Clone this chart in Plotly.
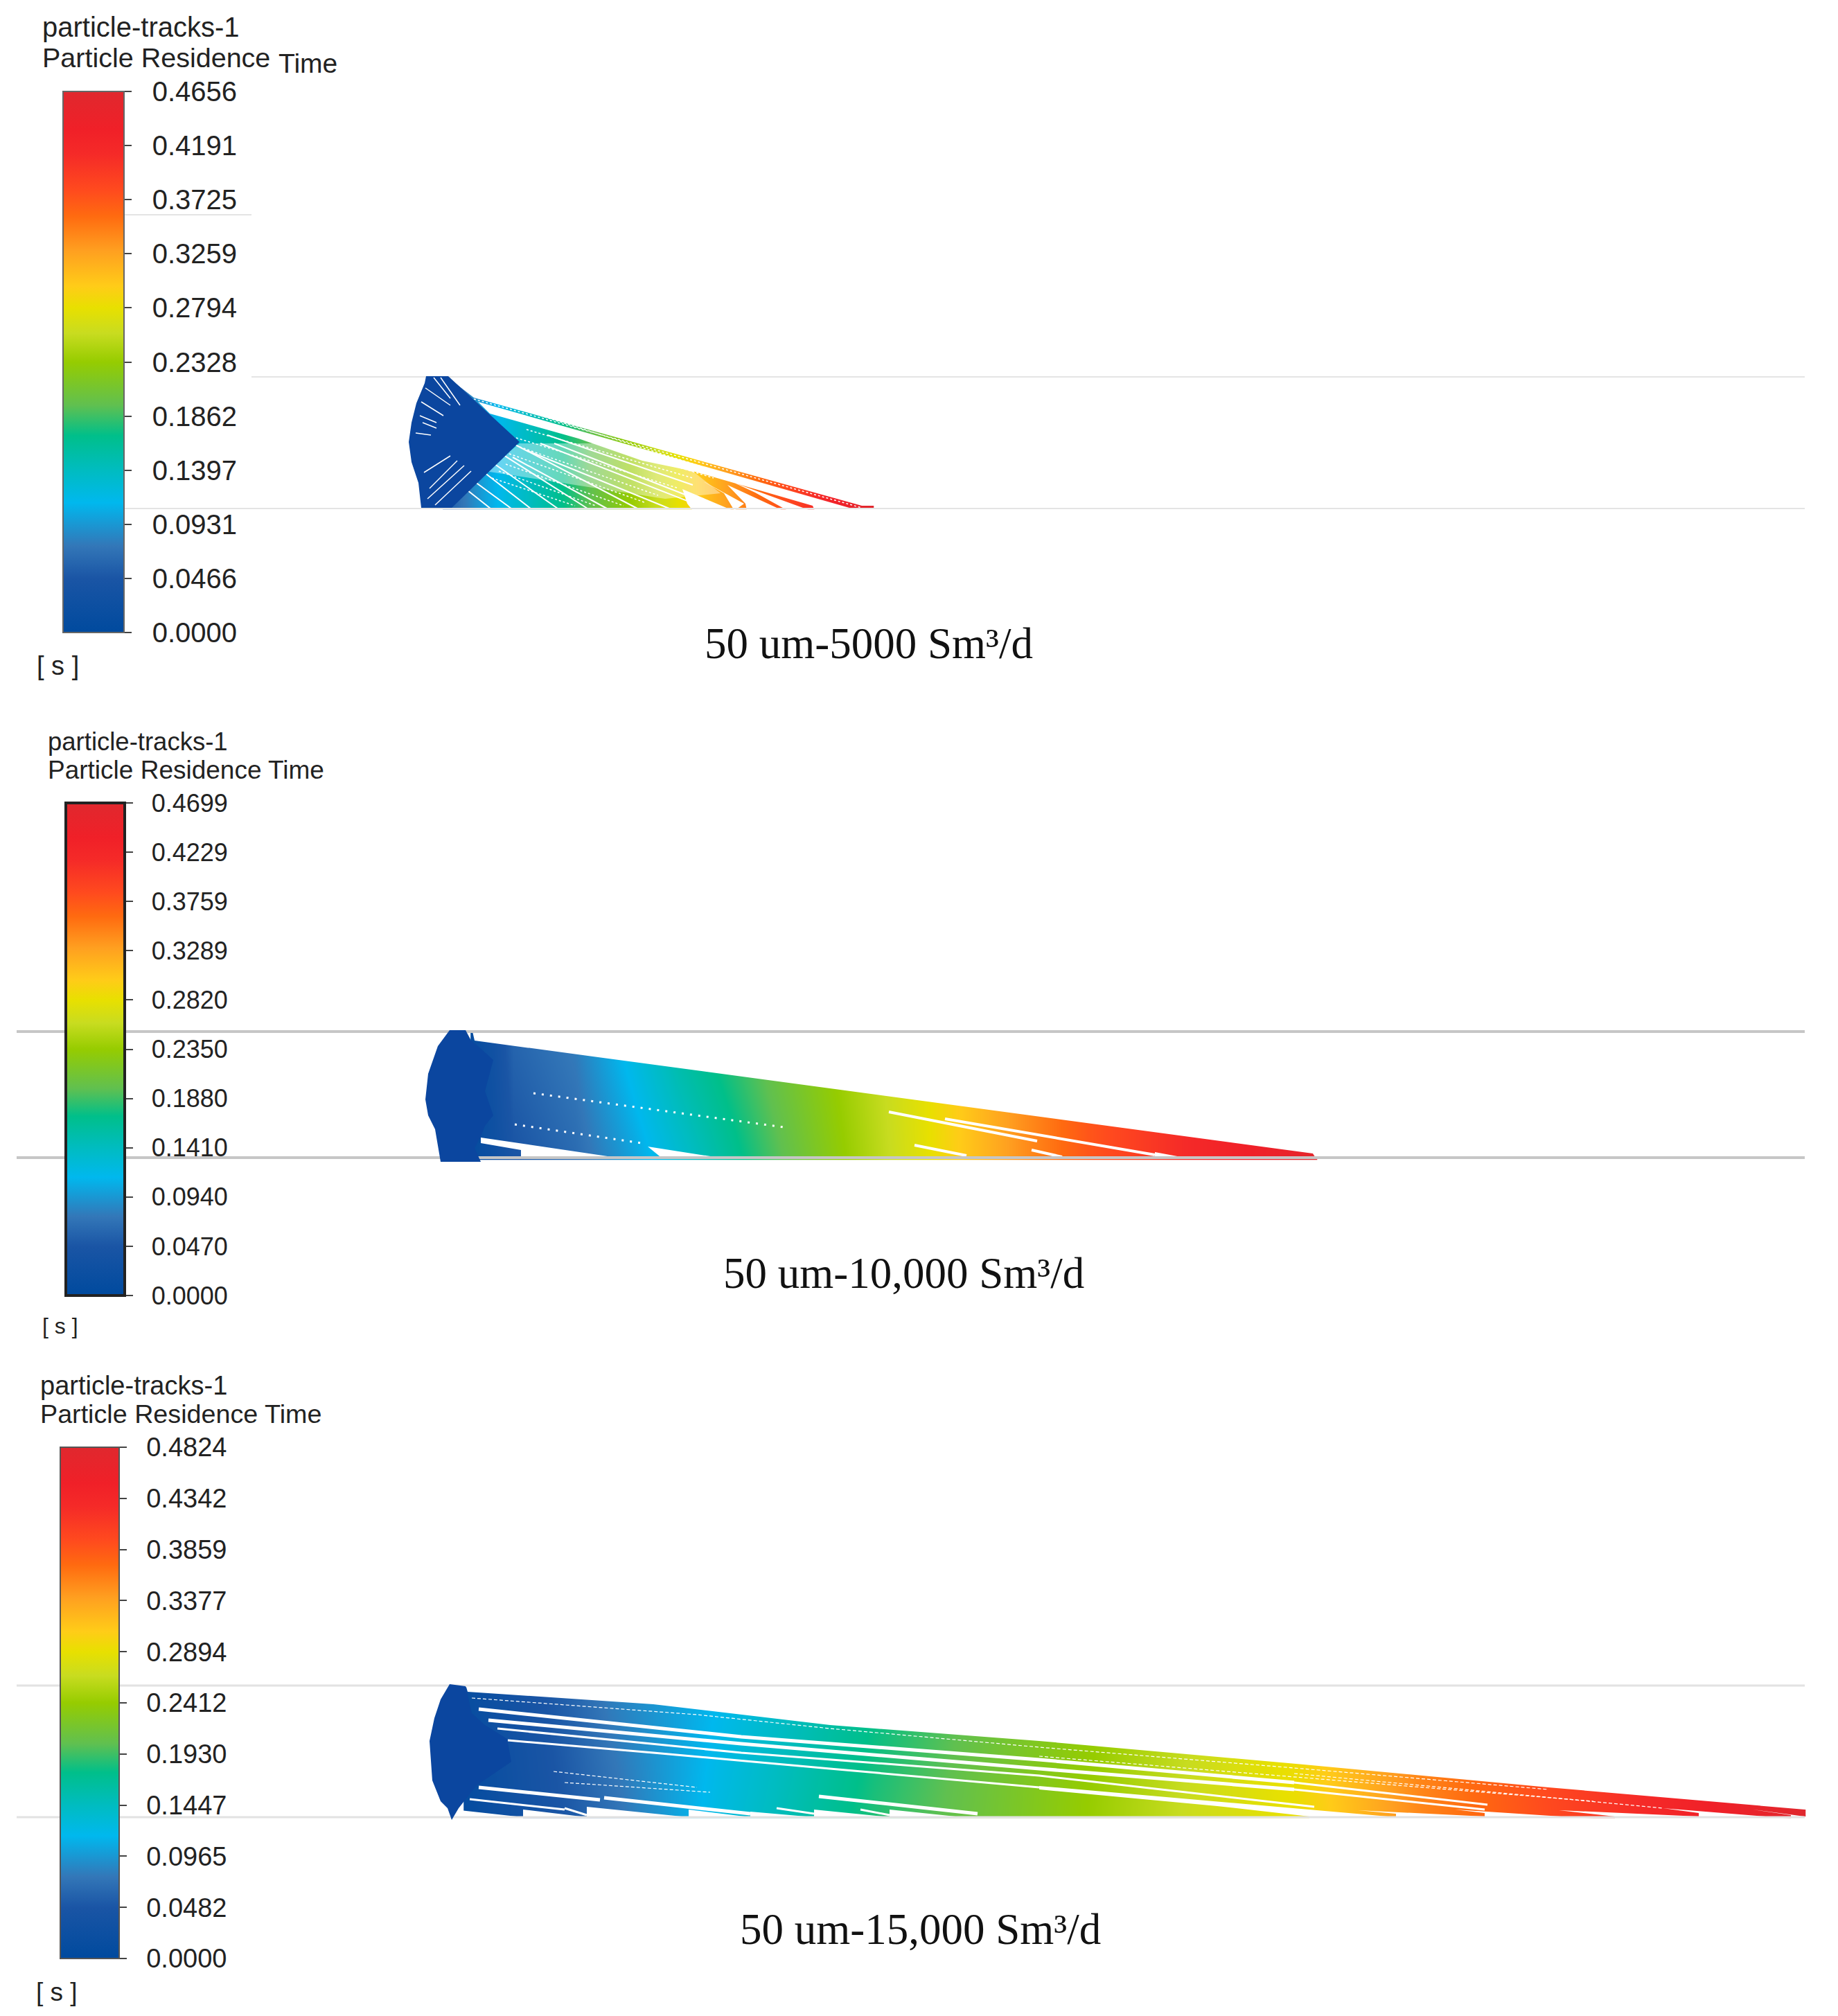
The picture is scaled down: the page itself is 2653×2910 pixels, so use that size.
import plotly.graph_objects as go

W, H = 2653, 2910
INSET = 8  # the page's own margin

# ---------- colour scale (fraction, colour)
scale_pos = [0, .10, .16, .24, .30, .364, .42, .50, .553, .60, .64, .705, .77, .818, .884, .93, 1]
scale_col = ["#004a9e", "#1a55a5", "#3377b8", "#00b8ee", "#00bcc0", "#00bf8a", "#60c050", "#96cc00",
             "#c8dc20", "#e8e000", "#ffcc18", "#ffa020", "#ff6a10", "#ff4a1e", "#f52a28", "#f02028", "#e0282e"]

# ---------- legend tick labels
ticks_1 = ["0.0000", "0.0466", "0.0931", "0.1397", "0.1862", "0.2328", "0.2794", "0.3259", "0.3725", "0.4191", "0.4656"]
ticks_2 = ["0.0000", "0.0470", "0.0940", "0.1410", "0.1880", "0.2350", "0.2820", "0.3289", "0.3759", "0.4229", "0.4699"]
ticks_3 = ["0.0000", "0.0482", "0.0965", "0.1447", "0.1930", "0.2412", "0.2894", "0.3377", "0.3859", "0.4342", "0.4824"]

# ---------- panel 1: residence time by position
p1_x = [640, 700, 730, 790, 850, 920, 980, 1030, 1090, 1150, 1220, 1260]
p1_y = [545, 734]
p1_z_top = [.05, .10, .12, .155, .195, .24, .28, .315, .355, .39, .44, .4656]
p1_z_bot = [.05, .10, .12, .155, .195, .24, .28, .315, .355, .39, .44, .4656]
p1_fan_x = [615, 647, 750, 652, 608, 604, 594, 590, 594, 601, 613]
p1_fan_y = [543, 543, 638, 733, 733, 697, 667, 638, 610, 582, 553]
p1_blank_x = [640, 684, 1244, 1270, 1270, 640, None,
              690, 1240, 1176, 1173, 1000, 927, 835, 707, None,
              1060, 1170, 1137, 1090, None,
              1050, 1130, 1078, 1076, None,
              1010, 1074, 1060, 1045, None,
              985, 1058, 1000, 992, None,
              1180, 1240, 1270, 1270, 1180]
p1_blank_y = [540, 574, 730, 730, 540, 540, None,
              580, 737, 737, 730, 680, 665, 633, 597, None,
              697, 737, 737, 711, None,
              700, 737, 737, 727, None,
              692, 727, 737, 712, None,
              706, 737, 737, 727, None,
              737, 735, 735, 740, 740]
p1_pale_x = [750, 700, 830, 960, 1040, 1000, 880]
p1_pale_y = [640, 680, 700, 720, 712, 680, 640]
p1_gap_x = [665, 708, None, 678, 738, None, 690, 766, None, 700, 805, None, 716, 848, None, 740, 876, None, 740, 920,
            None, 760, 966, None, 780, 1020, None, 800, 1040, None, 790, 1000, None, 780, 1000, None, 760, 960]
p1_gap_y = [700, 734, None, 690, 734, None, 675, 734, None, 660, 734, None, 650, 734, None, 660, 734, None, 640, 734,
            None, 650, 734, None, 640, 734, None, 640, 734, None, 628, 700, None, 615, 680, None, 608, 665]
p1_fine_x = [760, 1000, None, 745, 980, None, 750, 950, None, 735, 930, None, 730, 900, None, 720, 860, None, 710, 830,
             None, 770, 1030, None, 780, 1050, None, 684, 1244]
p1_fine_y = [620, 690, None, 632, 705, None, 645, 715, None, 655, 725, None, 670, 730, None, 680, 730, None, 690, 730,
             None, 610, 690, None, 600, 685, None, 576, 733]
p1_slit_x = [614, 650, None, 608, 640, None, 610, 630, None, 612, 650, None, 620, 660, None, 617, 670, None, 628, 680,
             None, 626, 650, None, 636, 664, None, 606, 630, None, 600, 622]
p1_slit_y = [560, 585, None, 580, 600, None, 610, 618, None, 682, 658, None, 705, 665, None, 720, 672, None, 729, 680,
             None, 545, 575, None, 545, 585, None, 600, 610, None, 625, 628]

# ---------- panel 2
p2_x = [680, 712, 740, 830, 890, 980, 1113, 1220, 1337, 1470, 1570, 1720, 1881, 1900]
p2_y = [1490, 1673]
p2_z_top = [.014, .033, .061, .08, .113, .16, .207, .244, .282, .338, .376, .418, .456, .47]
p2_z_bot = [.01, .025, .045, .065, .09, .13, .19, .235, .28, .338, .376, .418, .456, .47]
p2_fan_x = [649, 672, 680, 690, 712, 705, 700, 712, 700, 694, 685, 694, 636, 628, 618, 614, 618, 632]
p2_fan_y = [1487, 1487, 1502, 1510, 1530, 1555, 1575, 1610, 1625, 1640, 1657, 1677, 1677, 1630, 1610, 1587, 1550, 1510]
p2_blank_x = [680, 685, 1895, 1900, 1910, 1910, 680, None, 694, 904, 752, 752, 694, None, 935, 957, 1051,
              None, 1667, 1721, 1667]
p2_blank_y = [1480, 1502, 1665, 1673, 1673, 1480, 1480, None, 1642, 1673, 1673, 1660, 1650, None, 1655, 1673, 1673,
              None, 1663, 1673, 1673]
p2_gap_x = [1283, 1497, None, 1364, 1667, None, 1489, 1533, None, 1320, 1395]
p2_gap_y = [1605, 1647, None, 1615, 1667, None, 1660, 1670, None, 1653, 1668]
p2_dots_x = [770, 1131, None, 743, 926]
p2_dots_y = [1578, 1627, None, 1623, 1650]

# ---------- panel 3
p3_x = [670, 815, 880, 1038, 1261, 1453, 1720, 1868, 2051, 2235, 2456, 2605]
p3_y = [2436, 2623]
p3_z_top = [.014, .058, .082, .116, .174, .217, .265, .299, .357, .400, .449, .4824]
p3_z_bot = [.01, .05, .07, .125, .185, .22, .27, .29, .355, .395, .445, .4824]
p3_fan_x = [649, 672, 681, 700, 732, 738, 688, 662, 652, 646, 636, 624, 620, 627, 636]
p3_fan_y = [2431, 2434, 2473, 2490, 2510, 2543, 2577, 2610, 2627, 2610, 2600, 2570, 2513, 2480, 2453]
p3_blank_x = [670, 675, 943, 1198, 1500, 1882, 2235, 2605, 2653, 2653, 670, None,
              1500, 2015, 2015, 1960, 2143, 2143, 2100, 2331, 2331, 2250, 2452, 2452, 2400, 2585, 2585, 2530, 2605, 2653, 2653, 1890, 1890, 1757, 1500,
              None, 655, 755, 755, 655,
              None, 755, 847, 755, None, 847, 994, 847, None, 994, 1083, 994, None, 1083, 1175, 1083,
              None, 1175, 1284, 1175, None, 1284, 1389, 1284]
p3_blank_y = [2425, 2442, 2460, 2490, 2513, 2547, 2580, 2612, 2612, 2425, 2425, None,
              2578, 2623, 2618, 2613, 2622, 2617, 2612, 2627, 2622, 2613, 2622, 2617, 2610, 2625, 2620, 2612, 2622, 2622, 2640, 2640, 2622, 2607, 2583,
              None, 2612, 2623, 2630, 2630,
              None, 2612, 2623, 2623, None, 2608, 2623, 2623, None, 2612, 2623, 2623, None, 2615, 2623, 2623,
              None, 2612, 2623, 2623, None, 2612, 2623, 2623]
p3_thick_x = [691, 1070, 1500, 1868, None, 705, 1070, 1500, 1868, None, 691, 866, None, 872, 1083, None, 1182, 1411]
p3_thick_y = [2467, 2507, 2540, 2573, None, 2483, 2517, 2553, 2583, None, 2580, 2598, None, 2595, 2618, None, 2593, 2618]
p3_mid_x = [718, 1070, 1500, 1897, None, 733, 943, 1198, 1500, None, 678, 815, None, 815, 847, None, 1121, 1175, None, 1242, 1284,
            None, 1868, 2147, None, 1868, 2143]
p3_mid_y = [2495, 2530, 2563, 2608, None, 2512, 2530, 2553, 2580, None, 2597, 2612, None, 2610, 2620, None, 2610, 2618, None, 2612, 2620,
            None, 2573, 2605, None, 2583, 2612]
p3_thin_x = [681, 1006, 1198, 1500, 1868, 2235, None, 799, 1006, None, 815, 1025, None, 1500, 1868, 2300, None, 1868, 2400]
p3_thin_y = [2451, 2475, 2495, 2522, 2552, 2583, None, 2557, 2580, None, 2573, 2587, None, 2535, 2565, 2600, None, 2560, 2610]

# ---------- walls
wall1_x = [363, 2605, None, 180, 2605, None, 180, 363]
wall1_y = [544, 544, None, 734, 734, None, 310, 310]
wall2_x = [24, 2605, None, 24, 2605]
wall2_y = [1489, 1489, None, 1671, 1671]
wall3_x = [24, 2605, None, 24, 2605]
wall3_y = [2433, 2433, None, 2623, 2623]

FAN = "#0b469f"
SANS = "Liberation Sans"
SERIF = "Liberation Serif"
NB = "\u00a0"


def pad(a):
    return [a[0] - 0.5] + list(a) + [a[-1] + 0.5]


fig = go.Figure()


def field(x, y, top, bot, axis):
    rows = [pad(top), pad(top), pad(bot), pad(bot)]
    fig.add_trace(go.Heatmap(x=pad(x), y=pad(y), z=rows, coloraxis=axis, zsmooth="best", hoverinfo="skip"))


def fill(x, y, color="white"):
    fig.add_trace(go.Scatter(x=x, y=y, mode="lines", fill="toself", fillcolor=color,
                             line=dict(width=0, color=color), hoverinfo="skip"))


def line(x, y, color="white", width=2, dash="solid"):
    fig.add_trace(go.Scatter(x=x, y=y, mode="lines", line=dict(color=color, width=width, dash=dash),
                             connectgaps=False, hoverinfo="skip"))


field(p1_x, p1_y, p1_z_top, p1_z_bot, "coloraxis")
field(p2_x, p2_y, p2_z_top, p2_z_bot, "coloraxis2")
field(p3_x, p3_y, p3_z_top, p3_z_bot, "coloraxis3")

fill(p1_blank_x, p1_blank_y)
fill(p1_pale_x, p1_pale_y, "rgba(255,255,255,0.4)")
line(p1_gap_x, p1_gap_y, width=2)
line(p1_fine_x, p1_fine_y, width=1.5, dash="3px,3px")
fill(p2_blank_x, p2_blank_y)
line(p2_gap_x, p2_gap_y, width=4)
line(p2_dots_x, p2_dots_y, width=3, dash="3px,9px")
fill(p3_blank_x, p3_blank_y)
line(p3_thick_x, p3_thick_y, width=5)
line(p3_mid_x, p3_mid_y, width=3)
line(p3_thin_x, p3_thin_y, width=1.2, dash="5px,3px")

line(wall1_x, wall1_y, "#e4e4e4", 2)
line(wall2_x, wall2_y, "#c6c6c6", 4)
line(wall3_x, wall3_y, "#e2e2e2", 3)

fill(p1_fan_x, p1_fan_y, FAN)
line(p1_slit_x, p1_slit_y, width=1.5)
fill(p2_fan_x, p2_fan_y, FAN)
fill(p3_fan_x, p3_fan_y, FAN)

PW, PH = W - 2 * INSET, H - 2 * INSET


def axis_cfg(cmax, labels, left, top, height, thick, size, outline, owidth):
    step = cmax / (len(labels) - 1)
    return dict(
        cmin=0, cmax=cmax,
        colorscale=[[p, c] for p, c in zip(scale_pos, scale_col)],
        colorbar=dict(
            x=(left - INSET) / PW, xanchor="left", xpad=0, ypad=0,
            y=1 - (top - INSET) / PH, yanchor="top",
            lenmode="pixels", len=height, thicknessmode="pixels", thickness=thick,
            tickmode="array", tickvals=[i * step for i in range(len(labels))],
            ticktext=[NB + NB + t for t in labels],
            ticks="outside", ticklen=10, tickwidth=2, tickcolor="#444",
            tickfont=dict(family=SANS, size=size, color="#222"),
            outlinecolor=outline, outlinewidth=owidth, borderwidth=0,
        ),
    )


def label(x, y, text, size, family=SANS, anchor="left", color="#222"):
    return dict(x=x, y=y, xref="x", yref="y", text=text, showarrow=False, xanchor=anchor, yanchor="middle",
                font=dict(family=family, size=size, color=color))


notes = [
    label(59, 39, "particle-tracks-1", 40),
    label(59, 83, "Particle Residence", 39.5),
    label(400, 91, "Time", 39),
    label(51, 961, "[ s ]", 38),
    label(1254, 929, "50 um-5000 Sm³/d", 63, SERIF, "center", "#111"),
    label(67, 1070, "particle-tracks-1", 36.5),
    label(67, 1111, "Particle Residence Time", 37),
    label(59, 1914, "[ s ]", 32),
    label(1304, 1838, "50 um-10,000 Sm³/d", 63, SERIF, "center", "#111"),
    label(56, 2000, "particle-tracks-1", 38),
    label(56, 2041, "Particle Residence Time", 37.7),
    label(50, 2875, "[ s ]", 37),
    label(1328, 2785, "50 um-15,000 Sm³/d", 63, SERIF, "center", "#111"),
]

fig.update_layout(
    width=PW, height=PH, margin=dict(l=0, r=0, t=0, b=0), autosize=False,
    paper_bgcolor="white", plot_bgcolor="white", showlegend=False,
    xaxis=dict(range=[INSET, W - INSET], visible=False, fixedrange=True),
    yaxis=dict(range=[H - INSET, INSET], visible=False, fixedrange=True),
    coloraxis=axis_cfg(.4656, ticks_1, 91, 132, 781, 88, 40, "#666", 2),
    coloraxis2=axis_cfg(.4699, ticks_2, 95, 1159, 711, 85, 36, "#222", 4),
    coloraxis3=axis_cfg(.4824, ticks_3, 87, 2089, 738, 85, 38, "#555", 2),
    annotations=notes,
)

fig.write_html("out.html", config={"displayModeBar": False})
